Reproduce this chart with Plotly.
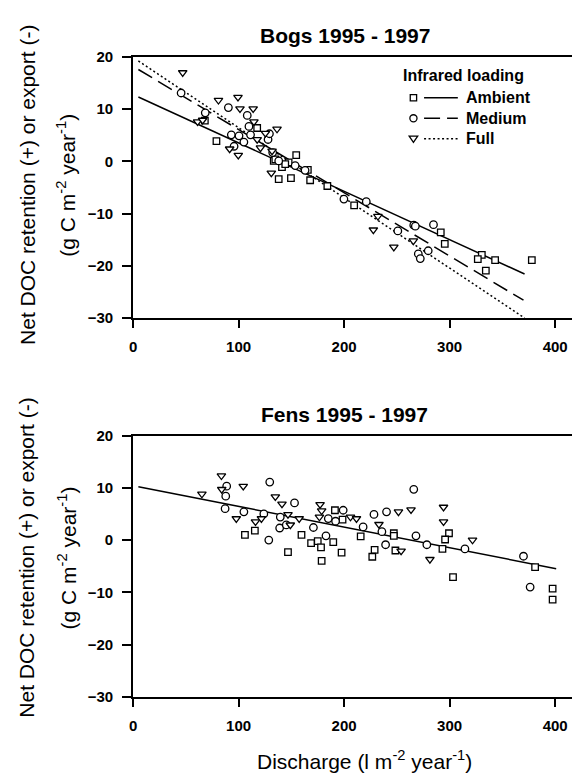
import plotly.graph_objects as go

# ---------------- data ----------------
# Bogs 1995-1997
bog_amb_x = [79, 117.6, 68, 154.6, 138, 149.6, 167.8, 184.1, 165.6, 133.3, 147.4, 141.1, 134.8, 144.2,
             209.5, 291.6, 295.4, 330.5, 326.7, 343.1, 334.3, 377.9]
bog_amb_y = [3.9, 6.4, 7.8, 1.2, -3.4, -3.2, -3.6, -4.7, -1.6, 0.1, -0.2, -1.1, 0.4, -0.5,
             -8.4, -13.6, -15.8, -17.9, -18.7, -18.9, -20.9, -18.9]
bog_med_x = [45.5, 90.3, 108.2, 68.4, 109.8, 93.1, 100.4, 105, 111.3, 127.9, 129.2, 95.7, 132.3, 138,
             153.6, 163, 199.8, 221, 266, 267.5, 284.7, 250.9, 279.7, 270.3, 272.2]
bog_med_y = [13.1, 10.3, 8.8, 9.3, 6.7, 5.1, 4.9, 3.7, 5.1, 4.2, 5.3, 2.9, 1.7, 0.1,
             -0.8, -1.7, -7.2, -7.7, -12.2, -12.4, -12.1, -13.3, -17.1, -17.7, -18.6]
bog_full_x = [47, 80.9, 99.4, 101.3, 113.8, 61.1, 65.9, 114.5, 136.4, 125.4, 120.7, 91.5, 99.7, 131.7,
              131, 117.6, 232, 227.7, 247.1, 265.6]
bog_full_y = [17, 11.7, 12.3, 10.1, 10.1, 7.6, 7.9, 7.6, 6.2, 5.4, 2.6, 2.4, 1.2, 2.0,
              -2.2, 4.2, -10.5, -13.1, -16.4, -15.2]

# regression lines for bogs: intercept, slope, x-extent
bog_fit_names = ["Ambient", "Medium", "Full"]
bog_fit_intercept = [12.8, 18.2, 19.9]
bog_fit_slope = [-0.0926, -0.121, -0.1344]
bog_fit_xmin = [5, 5, 5]
bog_fit_xmax = [371, 370, 371]

# Fens 1995-1997
fen_amb_x = [106, 115.4, 159.6, 168.7, 175, 146.8, 178.1, 189.7, 178.7, 191.3, 198.5, 197.6, 215.7,
             228.9, 226.7, 247.1, 247.1, 248.6, 299.4, 295.7, 293.2, 303.2, 381, 397.6, 397.6]
fen_amb_y = [1.0, 1.8, 1.0, -0.6, -0.2, -2.3, -1.4, -0.4, -4.0, 5.7, 3.9, -2.4, 0.7,
             -1.9, -3.2, 1.3, 0.8, -2.0, 1.3, 0.1, -1.7, -7.1, -5.2, -9.3, -11.4]
fen_med_x = [88.7, 87.8, 87.2, 105, 123.9, 129.5, 153, 139.5, 138.9, 145.2, 128.6, 170.9, 199.1,
             185, 191.9, 182.8, 218, 228.3, 240.2, 235.8, 239.3, 266, 268.1, 278.4, 314.5, 370, 376.3]
fen_med_y = [10.3, 8.4, 6.0, 5.4, 5.0, 11.1, 7.1, 4.4, 2.3, 2.9, 0.0, 2.4, 5.7,
             4.1, 3.6, 0.8, 2.5, 4.9, 5.4, 1.6, -0.9, 9.7, 0.8, -0.9, -1.7, -3.1, -9.0]
fen_full_x = [65.2, 83.7, 84, 104.4, 97.8, 116, 121.6, 134.8, 141.1, 146.8, 157.4, 149, 177.2,
              178.7, 176.6, 206, 211.7, 233, 251.5, 263.4, 294.2, 294.2, 321.7, 254, 281.3]
fen_full_y = [8.8, 12.3, 9.7, 10.3, 4.1, 3.5, 4.1, 8.3, 6.9, 4.9, 4.1, 2.9, 6.8,
              5.6, 4.4, 4.4, 4.1, 3.0, 5.4, 5.8, 6.3, 3.5, 0.0, -2.1, -3.7]

fen_fit_intercept = 10.4
fen_fit_slope = -0.0396
fen_fit_xmin = 5
fen_fit_xmax = 401

x_ticks = [0, 100, 200, 300, 400]
y_ticks = [-30, -20, -10, 0, 10, 20]

# ---------------- styling ----------------
W, H = 576, 784
FONT = "Liberation Sans, Arial, Helvetica, sans-serif"
line_dashes = ["solid", "16px,7px", "2px,2.5px"]


def px(x):
    return x / W


def py(y):
    return 1 - y / H


fig = go.Figure()


def add_points(xs, ys, symbol, size, xa, ya):
    fig.add_trace(go.Scatter(x=xs, y=ys, mode="markers", xaxis=xa, yaxis=ya,
                             marker=dict(symbol=symbol, size=size, color="white",
                                         line=dict(color="black", width=1.3)),
                             showlegend=False, hoverinfo="skip"))


# bogs fits (drawn below points)
for i in range(3):
    xs = [bog_fit_xmin[i], bog_fit_xmax[i]]
    ys = [bog_fit_intercept[i] + bog_fit_slope[i] * v for v in xs]
    fig.add_trace(go.Scatter(x=xs, y=ys, mode="lines", xaxis="x", yaxis="y",
                             line=dict(color="black", width=1.5, dash=line_dashes[i]),
                             showlegend=False, hoverinfo="skip"))

# bogs points
add_points(bog_amb_x, bog_amb_y, "square", 6.5, "x", "y")
add_points(bog_med_x, bog_med_y, "circle", 7.5, "x", "y")
add_points(bog_full_x, bog_full_y, "triangle-down", 7.5, "x", "y")

# fens fit
xs = [fen_fit_xmin, fen_fit_xmax]
ys = [fen_fit_intercept + fen_fit_slope * v for v in xs]
fig.add_trace(go.Scatter(x=xs, y=ys, mode="lines", xaxis="x2", yaxis="y2",
                         line=dict(color="black", width=1.5),
                         showlegend=False, hoverinfo="skip"))

# fens points
add_points(fen_amb_x, fen_amb_y, "square", 6.5, "x2", "y2")
add_points(fen_med_x, fen_med_y, "circle", 7.5, "x2", "y2")
add_points(fen_full_x, fen_full_y, "triangle-down", 7.5, "x2", "y2")

tickfont = dict(family=FONT, size=15, color="black", weight="bold")
x_dom = [px(130), px(572)]

xcommon = dict(range=[0, 416], tickvals=x_ticks, ticks="outside", ticklen=8, tickwidth=1.6,
               tickcolor="black", showline=True, linecolor="black", linewidth=1.8, mirror=True,
               showgrid=False, zeroline=False, tickfont=tickfont, domain=x_dom,
               ticklabelstandoff=6, fixedrange=True)
ycommon = dict(range=[-30, 20], tickvals=y_ticks, ticks="outside", ticklen=9, tickwidth=1.6,
               tickcolor="black", showline=True, linecolor="black", linewidth=1.8, mirror=False,
               showgrid=False, zeroline=False, tickfont=tickfont,
               ticklabelstandoff=6, fixedrange=True)

fig.update_layout(
    width=W, height=H, autosize=False,
    margin=dict(l=0, r=0, t=0, b=0),
    paper_bgcolor="white", plot_bgcolor="white",
    showlegend=False,
    xaxis=dict(anchor="y", **xcommon),
    yaxis=dict(anchor="x", domain=[py(316), py(49)], **ycommon),
    xaxis2=dict(anchor="y2", **xcommon),
    yaxis2=dict(anchor="x2", domain=[py(703), py(436)], **ycommon),
)

ann = []
title_font = dict(family=FONT, size=21, color="black", weight="bold")
ann.append(dict(text="Bogs 1995 - 1997", x=px(343), y=py(27), xref="paper", yref="paper",
                showarrow=False, font=title_font, xanchor="center", yanchor="middle"))
ann.append(dict(text="Fens 1995 - 1997", x=px(343), y=py(414), xref="paper", yref="paper",
                showarrow=False, font=title_font, xanchor="center", yanchor="middle"))

axis_font = dict(family=FONT, size=21, color="black")
for cy in (180, 561):
    ann.append(dict(text="Net DOC retention (+) or export (-)", x=px(23), y=py(cy),
                    xref="paper", yref="paper", showarrow=False, textangle=-90,
                    font=axis_font, xanchor="center", yanchor="middle"))
    ann.append(dict(text="(g C m<sup>-2</sup> year<sup>-1</sup>)", x=px(63), y=py(cy),
                    xref="paper", yref="paper", showarrow=False, textangle=-90,
                    font=axis_font, xanchor="center", yanchor="middle"))

ann.append(dict(text="Discharge (l m<sup>-2</sup> year<sup>-1</sup>)", x=px(363), y=py(768),
                xref="paper", yref="paper", showarrow=False, font=axis_font,
                xanchor="center", yanchor="middle"))

# legend
leg_font = dict(family=FONT, size=16, color="black", weight="bold")
ann.append(dict(text="Infrared loading", x=px(463), y=py(68), xref="paper", yref="paper",
                showarrow=False, font=leg_font, xanchor="center", yanchor="middle"))
leg_rows = [90.7, 111.7, 132.7]
shapes = []
for i, name in enumerate(bog_fit_names):
    ry = leg_rows[i]
    ann.append(dict(text=name, x=px(463), y=py(ry), xref="paper", yref="paper",
                    showarrow=False, font=leg_font, xanchor="left", yanchor="middle"))
    shapes.append(dict(type="line", xref="paper", yref="paper", x0=px(423), x1=px(457),
                       y0=py(ry), y1=py(ry),
                       line=dict(color="black", width=1.5, dash=line_dashes[i])))
sx = 412.3
shapes.append(dict(type="rect", xref="paper", yref="paper", x0=px(sx - 3.2), x1=px(sx + 3.2),
                   y0=py(leg_rows[0] + 3.2), y1=py(leg_rows[0] - 3.2),
                   line=dict(color="black", width=1.3), fillcolor="white"))
shapes.append(dict(type="circle", xref="paper", yref="paper", x0=px(sx - 3.6), x1=px(sx + 3.6),
                   y0=py(leg_rows[1] + 3.6), y1=py(leg_rows[1] - 3.6),
                   line=dict(color="black", width=1.3), fillcolor="white"))
tx0, tx1, tx2 = px(sx - 4.3), px(sx + 4.3), px(sx)
ty0, ty1 = py(leg_rows[2] - 2.8), py(leg_rows[2] + 3.5)
shapes.append(dict(type="path", xref="paper", yref="paper",
                   path=f"M {tx0} {ty0} L {tx1} {ty0} L {tx2} {ty1} Z",
                   line=dict(color="black", width=1.3), fillcolor="white"))

fig.update_layout(annotations=ann, shapes=shapes)

fig.write_html("out.html")
